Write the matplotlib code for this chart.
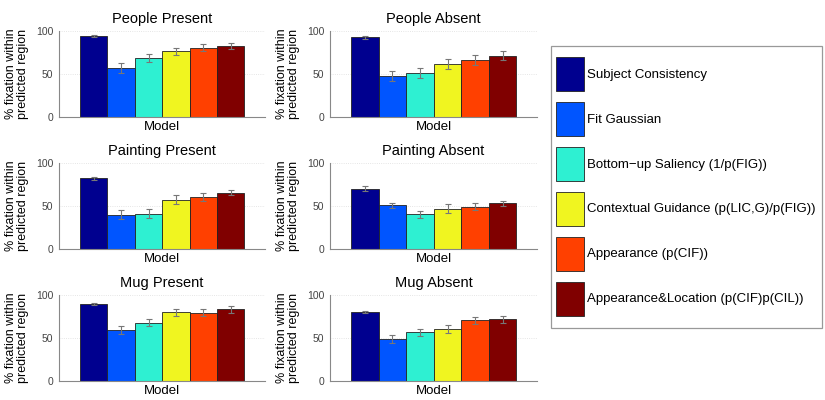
import numpy as np
import matplotlib
matplotlib.use('Agg')
import matplotlib.pyplot as plt
from matplotlib.patches import Rectangle

plt.rcParams['font.family'] = ['Liberation Sans', 'DejaVu Sans']

# model names (legend) and bar colours
models = ['Subject Consistency', 'Fit Gaussian', 'Bottom\u2212up Saliency (1/p(FIG))',
          'Contextual Guidance (p(LIC,G)/p(FIG))', 'Appearance (p(CIF))',
          'Appearance&Location (p(CIF)p(CIL))']
colors = ['#00008F', '#0055FF', '#2EF0D2', '#F0F520', '#FF4000', '#800000']

# panel titles
titles = ['People Present', 'People Absent', 'Painting Present',
          'Painting Absent', 'Mug Present', 'Mug Absent']

# % fixation within predicted region, one list per panel
people_present = [94, 57, 68.5, 76.5, 80.5, 82.5]
people_absent = [92.5, 48, 51.5, 61.5, 66, 71.5]
painting_present = [82, 40, 41, 57.5, 60.5, 65.5]
painting_absent = [70, 51, 40.5, 47, 49, 53]
mug_present = [89.5, 59, 68, 80, 79.5, 83.5]
mug_absent = [80, 49, 56.5, 60.5, 70.5, 72]

# error bar half-lengths
people_present_err = [1.5, 6, 5, 4, 4, 4]
people_absent_err = [1.5, 6, 6, 6, 6, 5]
painting_present_err = [2, 5, 5, 5, 5, 3]
painting_absent_err = [3, 3, 4, 5, 4, 3]
mug_present_err = [1.5, 4.5, 4, 4, 4, 4]
mug_absent_err = [1.5, 5, 4, 5, 4, 4]

values = [people_present, people_absent, painting_present,
          painting_absent, mug_present, mug_absent]
errors = [people_present_err, people_absent_err, painting_present_err,
          painting_absent_err, mug_present_err, mug_absent_err]

W, H = 825, 400
fig = plt.figure(figsize=(W / 100, H / 100), dpi=100)

# axes boxes in pixels: (left, top, width, height)
col_left = [59, 330]
col_width = [206, 207]
row_top = [31, 163, 295]
row_height = 86

x = np.arange(len(models))
handles = None
for i in range(6):
    r, c = divmod(i, 2)
    l, t = col_left[c], row_top[r]
    ax = fig.add_axes([l / W, 1 - (t + row_height) / H, col_width[c] / W, row_height / H])
    bars = ax.bar(x, values[i], width=1.0, color=colors, edgecolor='#222222', linewidth=0.6,
                  zorder=2)
    ax.errorbar(x, values[i], yerr=errors[i], fmt='none', ecolor='#777777',
                elinewidth=0.8, capsize=2, capthick=0.8, zorder=3)
    if handles is None:
        handles = bars
    ax.set_xlim(-1.27, 6.25)
    ax.set_ylim(0, 100)
    ax.set_yticks([0, 50, 100])
    ax.set_xticks([])
    for yv in [50, 100]:
        ax.axhline(yv, color='#dddddd', linestyle=':', linewidth=0.6, zorder=0)
    for s in ['top', 'right']:
        ax.spines[s].set_visible(False)
    for s in ['left', 'bottom']:
        ax.spines[s].set_color('#888888')
        ax.spines[s].set_linewidth(0.8)
    ax.tick_params(axis='y', labelsize=7.5, colors='#888888', labelcolor='#444444',
                   length=0, pad=4)
    ax.set_title(titles[i], fontsize=10.5, pad=6)
    ax.set_xlabel('Model', fontsize=9.5, labelpad=3)
    ax.set_ylabel('% fixation within\npredicted region', fontsize=9, labelpad=5,
                  linespacing=1.0)

# legend entries without frame, box drawn separately
leg = fig.legend(handles, models, loc='upper left', bbox_to_anchor=(556 / W, 1 - 57 / H),
                 borderaxespad=0, fontsize=9.5, handlelength=2.1, handleheight=3.586,
                 labelspacing=0.83, handletextpad=0.25, borderpad=0, frameon=False)
fig.add_artist(Rectangle((551 / W, 1 - 328 / H), 271 / W, 282 / H, transform=fig.transFigure,
                         fill=False, edgecolor='#999999', linewidth=0.9))

fig.savefig('out.png', dpi=100)
